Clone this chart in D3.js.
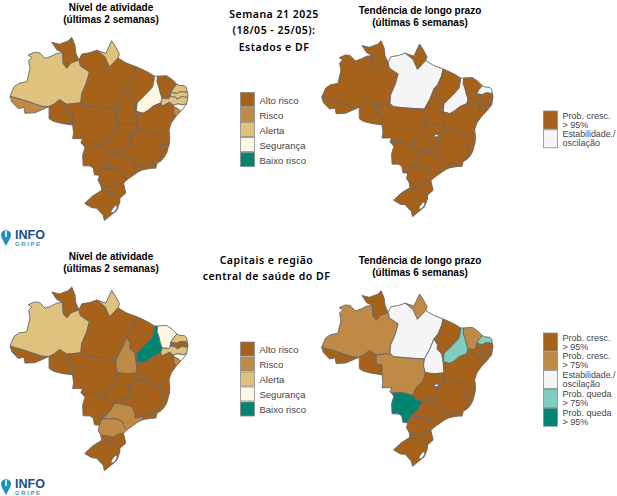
<!DOCTYPE html>
<html>
<head>
<meta charset="utf-8">
<script src="https://d3js.org/d3.v7.min.js"></script>
<style>
body { margin: 0; background: #fff; }
svg { display: block; }
</style>
</head>
<body>
<div class="canvas"></div>
<script>
// state outlines, [lon, lat]
var AC = [[-74,-7.25],[-70.3,-8.3],[-67,-9.4],[-65.4,-9.5],[-66.6,-10],[-68.5,-10.8],[-70.7,-10.9],[-70.9,-9.65],[-72.2,-9.9],[-73.6,-8.5]];
var AM = [[-74,-7.25],[-73.1,-5.25],[-72,-4.5],[-70.3,-4.2],[-69.6,-1.35],[-69.9,0.3],[-69.2,1],[-70,1.5],[-68.6,2.1],[-67.5,2],[-66.3,0.8],[-65,1.2],[-63.7,1.85],[-62.4,2],[-62.3,-0.3],[-61.5,-1.3],[-60.6,-0.2],[-58.8,0.45],[-58.5,-0.8],[-56.5,-2.1],[-57.2,-4.5],[-58.2,-6.7],[-58.4,-8.7],[-61.5,-9],[-63.1,-8],[-64.2,-8.9],[-65.4,-9.5],[-67,-9.4],[-70.3,-8.3]];
var RR = [[-64.8,4.2],[-63.1,3.8],[-61.2,4.5],[-60.4,5.27],[-59.7,3.6],[-59.5,1.9],[-58.8,0.45],[-60.6,-0.2],[-61.5,-1.3],[-62.3,-0.3],[-62.4,2],[-63.7,2.6]];
var AP = [[-54.9,2.5],[-52.9,1.85],[-51.6,4.55],[-50.7,3.2],[-49.9,1.7],[-50.2,0.85],[-52.1,-1.1],[-53.1,1.1]];
var PA = [[-58.8,0.45],[-58.2,1.7],[-56.4,2],[-54.9,2.5],[-53.1,1.1],[-52.1,-1.1],[-50.2,0.85],[-48.4,-0.2],[-46.2,-1.0],[-46.6,-2.6],[-47.4,-4.4],[-48.3,-5.4],[-49.2,-7.6],[-50.5,-9.9],[-54,-9.7],[-57.5,-9.4],[-58.4,-8.7],[-58.2,-6.7],[-57.2,-4.5],[-56.5,-2.1],[-58.5,-0.8]];
var RO = [[-65.4,-9.5],[-64.2,-8.9],[-63.1,-8],[-61.5,-9],[-61.5,-10.9],[-60.2,-11.3],[-60.2,-13.4],[-62.5,-13.1],[-64.5,-12.6],[-65.4,-12],[-65.4,-10.3]];
var MT = [[-58.4,-8.7],[-57.5,-9.4],[-54,-9.7],[-50.5,-9.9],[-50.7,-11.4],[-50.3,-12.9],[-50.5,-14],[-51,-15],[-52.3,-16.2],[-53.2,-18],[-54.5,-17.6],[-56,-17.3],[-58,-17.5],[-58.4,-17.2],[-58,-16.3],[-60.2,-16.3],[-60,-15.1],[-60.2,-13.4],[-60.2,-11.3],[-61.5,-10.9],[-61.5,-9]];
var TO = [[-48.3,-5.4],[-47.5,-6.7],[-47.6,-7.7],[-46.5,-8.8],[-46.2,-10.5],[-46,-13],[-48.5,-13.2],[-50.3,-12.9],[-50.7,-11.4],[-50.5,-9.9],[-49.2,-7.6]];
var GO = [[-46,-13],[-46,-14.8],[-47.3,-15.5],[-47.4,-16.6],[-47.3,-17.8],[-48.5,-18.4],[-50.4,-18.9],[-50.9,-19.4],[-52.6,-18.8],[-53.2,-18],[-52.3,-16.2],[-51,-15],[-50.5,-14],[-50.3,-12.9],[-48.5,-13.2]];
var DF = [[-48.2,-15.5],[-47.3,-15.5],[-47.3,-16.05],[-48.2,-16.05]];
var MS = [[-58,-17.5],[-57.5,-18.2],[-58,-19.8],[-57.9,-22.1],[-56.5,-22.1],[-55.7,-22.5],[-55.4,-24],[-54.3,-24.1],[-53.8,-22.8],[-52.2,-21.4],[-50.9,-19.4],[-52.6,-18.8],[-53.2,-18],[-54.5,-17.6],[-56,-17.3]];
var MA = [[-46.2,-1.0],[-45,-1.5],[-43.5,-2.2],[-42.2,-3],[-42.3,-4],[-42.6,-5.3],[-43.8,-6.6],[-46,-8.7],[-46.2,-10.5],[-46.5,-8.8],[-47.6,-7.7],[-47.5,-6.7],[-48.3,-5.4],[-47.4,-4.4],[-46.6,-2.6]];
var PI = [[-42.2,-3],[-41.5,-3],[-41.6,-4.2],[-41.2,-5.3],[-40.9,-6.5],[-40.5,-7.7],[-40.8,-8.7],[-41.3,-8.9],[-42.5,-9.4],[-43.6,-10.3],[-44.7,-10.9],[-46.2,-10.5],[-46,-8.7],[-43.8,-6.6],[-42.6,-5.3],[-42.3,-4]];
var CE = [[-41.5,-3],[-39.5,-2.9],[-38.3,-3.7],[-37.25,-4.7],[-38,-5.6],[-38.6,-6.5],[-38.7,-7.3],[-39,-7.8],[-40.5,-7.7],[-40.9,-6.5],[-41.2,-5.3],[-41.6,-4.2]];
var RN = [[-37.25,-4.7],[-36.8,-4.95],[-35.5,-5.1],[-35.1,-5.5],[-34.95,-6.45],[-36.2,-6.3],[-36.7,-6.4],[-37.2,-6.7],[-38.6,-6.5],[-38,-5.6]];
var PB = [[-38.6,-6.5],[-37.2,-6.7],[-36.7,-6.4],[-36.2,-6.3],[-34.95,-6.45],[-34.8,-7.0],[-34.85,-7.5],[-35.5,-7.5],[-36,-7.3],[-37.2,-7.9],[-37.5,-7.5],[-38.7,-7.3]];
var PE = [[-40.5,-7.7],[-39,-7.8],[-38.7,-7.3],[-37.5,-7.5],[-37.2,-7.9],[-36,-7.3],[-35.5,-7.5],[-34.85,-7.5],[-35.1,-8.9],[-36,-9.1],[-37,-8.9],[-38,-9.2],[-38.9,-8.6],[-40.5,-9.4],[-40.8,-8.7]];
var AL = [[-38,-9.2],[-37,-8.9],[-36,-9.1],[-35.1,-8.9],[-35.7,-9.7],[-36.4,-10.5],[-37,-10],[-38,-9.5]];
var SE = [[-38,-9.5],[-37,-10],[-36.4,-10.5],[-37.4,-11.5],[-37.9,-11]];
var BA = [[-46.2,-10.5],[-44.7,-10.9],[-43.6,-10.3],[-42.5,-9.4],[-41.3,-8.9],[-40.8,-8.7],[-40.5,-9.4],[-38.9,-8.6],[-38,-9.2],[-38,-9.5],[-37.9,-11],[-37.4,-11.5],[-38.5,-13],[-39,-14.5],[-38.8,-16],[-38.9,-17.3],[-40.3,-17.7],[-40.2,-16],[-41.4,-15.6],[-43.5,-15],[-44.2,-14.3],[-46,-14.8],[-46,-13]];
var MG = [[-46,-14.8],[-44.2,-14.3],[-43.5,-15],[-41.4,-15.6],[-40.2,-16],[-40.3,-17.7],[-40.9,-18],[-40.4,-20.2],[-41.2,-20.6],[-42.1,-20.9],[-43,-21.8],[-44.7,-22.2],[-46.5,-22.6],[-46.5,-21.6],[-47.2,-20.1],[-48.5,-19.8],[-50.9,-19.4],[-50.4,-18.9],[-48.5,-18.4],[-47.3,-17.8],[-47.4,-16.6],[-47.3,-15.5]];
var ES = [[-40.3,-17.7],[-38.9,-17.3],[-39.5,-19.4],[-40.2,-20.5],[-41,-21.2],[-41.2,-20.6],[-40.4,-20.2],[-40.9,-18]];
var RJ = [[-44.7,-22.9],[-44.7,-22.2],[-43,-21.8],[-42.1,-20.9],[-41.2,-20.6],[-41,-21.2],[-41.6,-21.5],[-41.9,-22.6],[-42.8,-22.6]];
var SP = [[-53.8,-22.8],[-52.2,-21.4],[-50.9,-19.4],[-48.5,-19.8],[-47.2,-20.1],[-46.5,-21.6],[-46.5,-22.6],[-44.7,-22.2],[-44.7,-22.9],[-45.8,-23.4],[-48.3,-25.1],[-49,-24.2],[-49.2,-23.4],[-50.4,-22.8],[-52,-22.7]];
var PR = [[-54.6,-25.2],[-54.3,-24.1],[-53.8,-22.8],[-52,-22.7],[-50.4,-22.8],[-49.2,-23.4],[-49,-24.2],[-48.3,-25.1],[-49,-25.8],[-50,-26],[-51.3,-26.6],[-54,-26.2]];
var SC = [[-53.8,-27.3],[-54,-26.2],[-51.3,-26.6],[-50,-26],[-49,-25.8],[-48.5,-27.9],[-49.8,-29],[-51.3,-27.9]];
var RS = [[-53.8,-27.3],[-51.3,-27.9],[-49.8,-29],[-49.8,-29.8],[-50.5,-31.6],[-52.4,-33.1],[-53.2,-33.75],[-53.5,-32.6],[-54.9,-31.1],[-56,-31],[-57.55,-30.1],[-55.8,-28.5]];
var lagoa = [[-50.4,-30.5],[-50.9,-30.6],[-51.6,-31.5],[-51.8,-32.1],[-51.1,-32],[-50.5,-31.2]];

var states = [AC, AM, RR, AP, PA, RO, MT, TO, GO, MS, MA, PI, CE, RN, PB, PE, AL, SE, BA, MG, ES, RJ, SP, PR, SC, RS, DF];
var stateCodes = ["AC","AM","RR","AP","PA","RO","MT","TO","GO","MS","MA","PI","CE","RN","PB","PE","AL","SE","BA","MG","ES","RJ","SP","PR","SC","RS","DF"];

var nivelLabels = ["Alto risco","Risco","Alerta","Segurança","Baixo risco"];
var nivelColors = ["#a6611a","#bf8a46","#dfc27d","#fdf8e1","#018571"];
var tendLabels = [["Prob. cresc.","> 95%"],["Prob. cresc.","> 75%"],["Estabilidade./","oscilação"],["Prob. queda","> 75%"],["Prob. queda","> 95%"]];
var tendColors = ["#a6611a","#bf8a46","#f5f5f5","#80cdc1","#018571"];

// same order as stateCodes, index into the legend above
var nivelEstados =     [1,2,0,2,0,0,0,0,0,0,0,3,0,2,2,2,3,1,0,0,0,0,0,0,0,0,0];
var tendEstados =      [0,0,0,0,2,0,0,0,0,0,0,2,0,2,0,0,0,0,0,0,0,0,0,0,0,0,2];
var nivelCapitais =    [0,2,0,2,0,0,0,1,0,0,0,4,3,2,0,2,3,1,0,0,0,0,1,1,0,0,0];
var tendCapitais =     [0,1,0,1,2,0,1,2,0,4,0,3,1,3,0,0,0,0,0,0,0,0,0,0,0,0,2];

var svg = d3.select(".canvas").append("svg").attr("width", 617).attr("height", 496);

function drawMap(left, right, top, bottom, values, colors) {
    var xScale = d3.scaleLinear().domain([-74,-34.8]).range([left, right]);
    var yScale = d3.scaleLinear().domain([5.27,-33.75]).range([top, bottom]);
    var line = d3.line().x(d => xScale(d[0])).y(d => yScale(d[1])).curve(d3.curveLinearClosed);
    var g = svg.append("g");

    g.selectAll("path.uf")
        .data(states)
        .join("path")
        .attr("class", "uf")
        .attr("d", line)
        .attr("fill", (d, i) => colors[values[i]])
        .attr("stroke", "#666")
        .attr("stroke-width", 0.9)
        .attr("stroke-linejoin", "round");

    g.append("path")
        .attr("d", line(lagoa))
        .attr("fill", "#fff")
        .attr("stroke", "#666")
        .attr("stroke-width", 0.7);
}

function title(x, y, lines) {
    lines.forEach(function (t, i) {
        svg.append("text")
            .attr("x", x)
            .attr("y", y + i * 11.5)
            .attr("text-anchor", "middle")
            .attr("font-family", "Liberation Sans")
            .attr("font-weight", "bold")
            .attr("font-size", "10px")
            .text(t);
    });
}

function centerTitle(x, y, step, lines) {
    lines.forEach(function (t, i) {
        svg.append("text")
            .attr("x", x)
            .attr("y", y + i * step)
            .attr("text-anchor", "middle")
            .attr("font-family", "Noto Sans")
            .attr("font-weight", "600")
            .attr("font-size", "10.5px")
            .attr("letter-spacing", "0.5px")
            .text(t);
    });
}

function legendNivel(x, y) {
    nivelLabels.forEach(function (t, i) {
        svg.append("rect")
            .attr("x", x).attr("y", y + i * 15)
            .attr("width", 14).attr("height", 14)
            .attr("fill", nivelColors[i])
            .attr("stroke", "#8a8a8a").attr("stroke-width", 0.8);
        svg.append("text")
            .attr("x", x + 19).attr("y", y + i * 15 + 11)
            .attr("font-family", "Liberation Sans")
            .attr("font-size", "9.5px")
            .attr("fill", "#444")
            .text(t);
    });
}

function legendTend(x, y, which) {
    which.forEach(function (c, i) {
        svg.append("rect")
            .attr("x", x).attr("y", y + i * 18.8)
            .attr("width", 14).attr("height", 18)
            .attr("fill", tendColors[c])
            .attr("stroke", "#8a8a8a").attr("stroke-width", 0.8);
        tendLabels[c].forEach(function (t, j) {
            var label = svg.append("text")
                .attr("x", x + 19).attr("y", y + i * 18.8 + 7.5 + j * 9)
                .attr("font-family", "Liberation Sans")
                .attr("font-size", "9px")
                .attr("fill", "#444")
                .text(t);
            // this one runs right up to the page edge
            if (t.indexOf("Estab") === 0) label.attr("textLength", 53).attr("lengthAdjust", "spacingAndGlyphs");
        });
    });
}

function logo(x, y) {
    svg.append("path")
        .attr("d", `M${x+6},${y+18} C${x+3},${y+12} ${x+1},${y+10} ${x+1},${y+6} A5.2,5.2 0 0 1 ${x+11},${y+6} C${x+11},${y+10} ${x+9},${y+12} ${x+6},${y+18} Z`)
        .attr("fill", "#1f8fc4");
    svg.append("rect").attr("x", x+5.2).attr("y", y+3).attr("width", 1.6).attr("height", 6).attr("fill", "#fff");
    svg.append("text")
        .attr("x", x+15).attr("y", y+11)
        .attr("font-family", "Liberation Sans").attr("font-weight", "bold")
        .attr("font-size", "12.5px").attr("fill", "#1c4f8c")
        .text("INFO");
    svg.append("text")
        .attr("x", x+15).attr("y", y+18)
        .attr("font-family", "Liberation Sans").attr("font-weight", "bold")
        .attr("font-size", "6px").attr("letter-spacing", "1.6px").attr("fill", "#4a8fb5")
        .text("GRIPE");
}

// top row
title(111, 11, ["Nível de atividade","(últimas 2 semanas)"]);
title(420, 14, ["Tendência de longo prazo","(últimas 6 semanas)"]);
centerTitle(274, 17.5, 16.5, ["Semana 21 2025","(18/05 - 25/05):","Estados e DF"]);
drawMap(10, 188, 37.3, 220.6, nivelEstados, nivelColors);
drawMap(321.7, 493, 40.7, 216.7, tendEstados, tendColors);
legendNivel(240.5, 92.5);
legendTend(543.5, 111, [0,2]);
logo(0, 228);

// bottom row
title(111, 260, ["Nível de atividade","(últimas 2 semanas)"]);
title(420, 264, ["Tendência de longo prazo","(últimas 6 semanas)"]);
centerTitle(266.5, 264, 16, ["Capitais e região","central de saúde do DF"]);
drawMap(10, 188, 287, 470.7, nivelCapitais, nivelColors);
drawMap(321.7, 493, 290.7, 466.3, tendCapitais, tendColors);
legendNivel(240.5, 342);
legendTend(543.5, 333, [0,1,2,3,4]);
logo(0, 477);
</script>
</body>
</html>
